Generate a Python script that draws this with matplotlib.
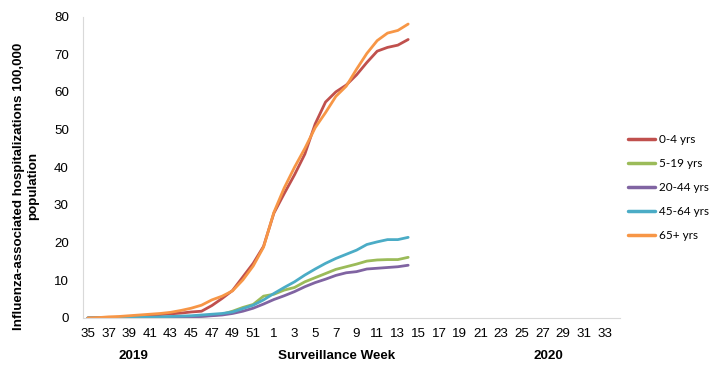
import matplotlib
matplotlib.use("Agg")
import matplotlib.pyplot as plt

weeks = [str(w) for w in range(35, 53)] + [str(w) for w in range(1, 35)]
tick_labels = [w if (k % 2 == 0) else "" for k, w in enumerate(weeks)]

age_0_4 = [0, 0.05, 0.1, 0.2, 0.3, 0.5, 0.7, 0.9, 1.1, 1.3, 1.6, 1.8, 3.3, 5.2, 7.3, 10.9,
           14.5, 19, 27.8, 33, 38, 43.5, 51.5, 57.3, 60, 61.8, 64.5, 67.8, 70.8, 71.8, 72.4, 73.9]
age_5_19 = [0, 0, 0, 0, 0, 0.05, 0.1, 0.15, 0.2, 0.3, 0.4, 0.5, 0.7, 1.0, 1.8, 2.8,
            3.6, 5.8, 6.3, 7.4, 8.1, 9.6, 10.7, 11.8, 12.9, 13.6, 14.3, 15.1, 15.4, 15.5, 15.5, 16.1]
age_20_44 = [0, 0, 0, 0, 0, 0.05, 0.1, 0.15, 0.2, 0.25, 0.3, 0.4, 0.6, 0.8, 1.2, 1.8,
             2.6, 3.7, 4.9, 5.9, 7.0, 8.3, 9.4, 10.3, 11.3, 12.0, 12.3, 13.0, 13.2, 13.4, 13.6, 14.0]
age_45_64 = [0, 0, 0, 0.05, 0.1, 0.15, 0.2, 0.3, 0.4, 0.5, 0.6, 0.8, 1.0, 1.2, 1.6, 2.5,
             3.4, 4.8, 6.5, 8.1, 9.6, 11.4, 13.0, 14.5, 15.8, 16.9, 18.0, 19.5, 20.2, 20.8, 20.8, 21.4]
age_65p = [0, 0.1, 0.3, 0.4, 0.6, 0.8, 1.0, 1.2, 1.5, 2.0, 2.6, 3.4, 4.8, 5.8, 7.2, 10.1,
           13.8, 18.8, 28, 34.5, 40, 45, 50.5, 54.5, 58.8, 61.5, 66, 70.2, 73.6, 75.6, 76.3, 78]

series = [
    ("0-4 yrs", age_0_4, "#C0504D"),
    ("5-19 yrs", age_5_19, "#9BBB59"),
    ("20-44 yrs", age_20_44, "#8064A2"),
    ("45-64 yrs", age_45_64, "#4BACC6"),
    ("65+ yrs", age_65p, "#F79646"),
]

FS = 9.6
fig = plt.figure(figsize=(7.22, 3.74), dpi=100)
ax = fig.add_axes([82.7 / 722, 1 - 318 / 374, (620 - 82.7) / 722, (318 - 16.5) / 374])

x = list(range(len(weeks)))
for name, vals, col in series:
    ax.plot(x[:len(vals)], vals, color=col, lw=2.0, label=name, solid_capstyle="round")

ax.set_xlim(-0.5, len(weeks) - 0.5)
ax.set_ylim(0, 80)
ax.set_yticks(range(0, 81, 10))
ax.set_xticks(x)
ax.set_xticklabels(tick_labels, fontsize=FS, family="Liberation Sans")
for lab in ax.get_yticklabels():
    lab.set_family("Liberation Sans")
    lab.set_fontsize(FS)
ax.tick_params(axis="both", length=0)
ax.tick_params(axis="y", pad=10)
ax.tick_params(axis="x", pad=7)
for s in ["top", "right"]:
    ax.spines[s].set_visible(False)
ax.spines["left"].set_color("#D9D9D9")
ax.spines["bottom"].set_color("#D9D9D9")

fig.text(133 / 722, 1 - 356 / 374, "2019", ha="center", va="center",
         fontsize=FS, fontweight="bold", family="Liberation Sans")
fig.text(337 / 722, 1 - 356 / 374, "Surveillance Week", ha="center", va="center",
         fontsize=FS, fontweight="bold", family="Liberation Sans")
fig.text(548 / 722, 1 - 356 / 374, "2020", ha="center", va="center",
         fontsize=FS, fontweight="bold", family="Liberation Sans")
fig.text(26 / 722, 1 - 186 / 374, "Influenza-associated hospitalizations 100,000\npopulation",
         ha="center", va="center", rotation=90, fontsize=FS, fontweight="bold",
         family="Liberation Sans", linespacing=1.15)

leg = fig.legend(loc="upper left", bbox_to_anchor=(628 / 722, 1 - 134 / 374),
                 frameon=False, prop={"family": "Lato", "size": 8.5},
                 handlelength=2.3, handletextpad=0.3, labelspacing=1.1,
                 borderaxespad=0, borderpad=0)
for h in leg.get_lines():
    h.set_linewidth(2.5)

fig.savefig("out.png", dpi=100)
